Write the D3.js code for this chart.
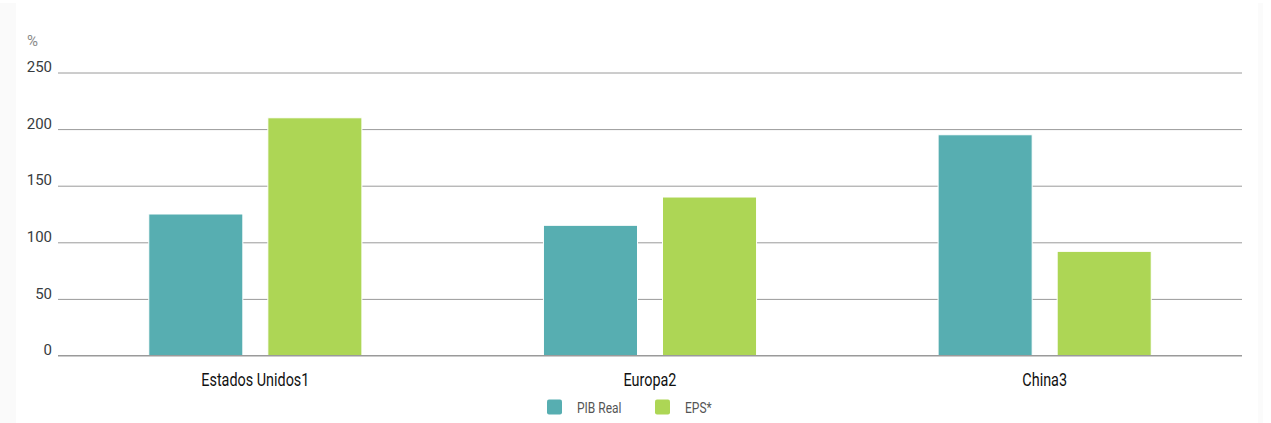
<!DOCTYPE html>
<html><head><meta charset="utf-8">
<script src="https://cdn.jsdelivr.net/npm/d3@7/dist/d3.min.js"></script>
<style>html,body{margin:0;padding:0;background:#fff;}svg{display:block;}</style>
</head><body>
<svg id="c" width="1271" height="423"></svg>
<script>
const categories = ["Estados Unidos1", "Europa2", "China3"];
const seriesNames = ["PIB Real", "EPS*"];
const pibReal = [125, 115, 195];
const eps = [210, 140, 92];
const yTicks = [0, 50, 100, 150, 200, 250];
const colors = ["#57AEB1", "#ADD655"];

const svg = d3.select("#c");
const W = 1271, H = 423;
const m = {l: 58, r: 29, t: 72.5, b: 67.5};
const narrow = 0.8;

// faint outer panel edges
svg.append("rect").attr("x", 0).attr("y", 3).attr("width", 16).attr("height", H - 3).attr("fill", "#fafafa");
svg.append("rect").attr("x", 1258).attr("y", 3).attr("width", 5).attr("height", H - 3).attr("fill", "#fbfbfb");

const x0 = d3.scaleBand().domain(categories).range([m.l, W - m.r]).paddingInner(0).paddingOuter(0);
const bw = x0.bandwidth();
const groupW = bw * 0.54;
const x1 = d3.scaleBand().domain(seriesNames).range([(bw - groupW) / 2, (bw + groupW) / 2]).paddingInner(0.21).paddingOuter(0);
const y = d3.scaleLinear().domain([0, 250]).range([H - m.b, m.t]);

// grid
const grid = svg.append("g").attr("transform", `translate(${m.l},0)`)
  .call(d3.axisLeft(y).tickValues(yTicks).tickSize(-(W - m.l - m.r)).tickFormat(""));
grid.select(".domain").remove();
grid.selectAll("line").attr("stroke", "#9a9a9a").attr("stroke-width", 1);

// y labels
const ya = svg.append("g").attr("transform", `translate(52,0)`)
  .call(d3.axisLeft(y).tickValues(yTicks).tickSize(0).tickPadding(0));
ya.select(".domain").remove();
ya.selectAll("text").attr("font-family", "Roboto, Arial, sans-serif").attr("font-size", 15)
  .attr("fill", "#383c40").attr("dy", "-0.05em");

svg.append("text").attr("x", 27).attr("y", 46).text("%")
  .attr("font-family", "Roboto, Arial, sans-serif").attr("font-size", 15).attr("fill", "#8a8a8a");

// bars
const data = categories.map((c, i) => ({cat: c, vals: [pibReal[i], eps[i]]}));
const g = svg.append("g");
data.forEach(d => {
  g.selectAll(null).data(d.vals.map((v, j) => ({s: seriesNames[j], v, j}))).enter().append("rect")
    .attr("x", e => x0(d.cat) + x1(e.s))
    .attr("width", x1.bandwidth())
    .attr("y", e => y(e.v))
    .attr("height", e => y(0) - y(e.v))
    .attr("fill", e => colors[e.j])
    .attr("stroke", "#fff").attr("stroke-width", 1);
});

// baseline
svg.append("line").attr("x1", m.l).attr("x2", W - m.r).attr("y1", y(0)).attr("y2", y(0))
  .attr("stroke", "#9a9a9a").attr("stroke-width", 1);

// category labels
const xa = svg.append("g").attr("transform", `translate(0,${y(0)})`)
  .call(d3.axisBottom(x0).tickSize(0).tickPadding(18));
xa.select(".domain").remove();
xa.selectAll("text").attr("font-family", "Roboto, Arial, sans-serif")
  .attr("font-size", 18).attr("fill", "#111")
  .attr("transform", `scale(${narrow},1)`);

// legend
const lg = svg.append("g");
const lx = [547, 655];
seriesNames.forEach((s, i) => {
  lg.append("rect").attr("x", lx[i]).attr("y", 399.5).attr("width", 15).attr("height", 15)
    .attr("rx", 2).attr("fill", colors[i]);
  lg.append("text").attr("transform", `translate(${lx[i] + 30},413) scale(${narrow},1)`).text(s)
    .attr("font-family", "Roboto, Arial, sans-serif")
    .attr("font-size", 15).attr("fill", "#555");
});
</script>
</body></html>
